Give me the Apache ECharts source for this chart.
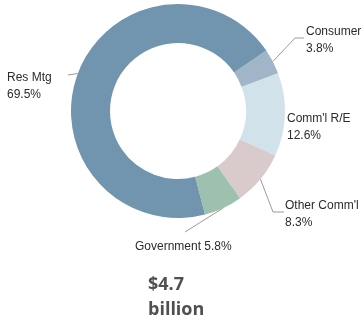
<!DOCTYPE html>
<html>
<head>
<meta charset="utf-8">
<script src="https://cdn.jsdelivr.net/npm/echarts@6/dist/echarts.min.js"></script>
<style>
  html, body { margin: 0; padding: 0; background: #fff; }
  #chart { width: 364px; height: 324px; }
</style>
</head>
<body>
<div id="chart"></div>
<script>
// Loan portfolio mix (share of $4.7 billion)
const categories = ['Consumer', "Comm'l R/E", "Other Comm'l", 'Government', 'Res Mtg'];
const shares = [3.8, 12.6, 8.3, 5.8, 69.5];
const sliceColors = ['#a0b6c8', '#d2e2eb', '#d9cbcb', '#9ec0ae', '#7195af'];
const totalLabel = ['$4.7', 'billion'];

// Label text placement (top-left of each text block) and the elbow of its leader line
const labelPlacement = [
  { x: 306, y: 23, line: [[-11, 15], [-2, 15]] },
  { x: 287, y: 110, line: null },
  { x: 285, y: 197, line: [[-12, 15], [-1, 15]] },
  { x: 135, y: 238, line: [[50, -6]] },
  { x: 7, y: 69, line: [[61, 6]] }
];
const twoLine = [true, true, true, false, true];

const font = '"Liberation Sans", Arial, sans-serif';

const chart = echarts.init(document.getElementById('chart'), null, { renderer: 'canvas' });

chart.setOption({
  animation: false,
  graphic: [{
    type: 'text',
    left: 148,
    top: 272,
    style: {
      text: totalLabel.join('\n'),
      font: 'bold 18px "Open Sans", sans-serif',
      lineHeight: 25,
      fill: '#505050',
      align: 'center'
    }
  }],
  series: [{
    type: 'pie',
    center: [178, 111],
    radius: [68, 107],
    startAngle: 34.4,
    clockwise: true,
    avoidLabelOverlap: false,
    itemStyle: { borderWidth: 0 },
    label: {
      show: true,
      position: 'outside',
      color: '#2b2b2b',
      fontFamily: font,
      fontSize: 12,
      lineHeight: 17,
      formatter: p => twoLine[p.dataIndex] ? p.name + '\n' + p.value.toFixed(1) + '%' : p.name + ' ' + p.value.toFixed(1) + '%'
    },
    labelLine: { show: true, lineStyle: { color: '#9a9a9a', width: 1 } },
    labelLayout: function (params) {
      const pl = labelPlacement[params.dataIndex];
      const out = { x: pl.x, y: pl.y, align: 'left', verticalAlign: 'top' };
      if (pl.line && params.labelLinePoints) {
        const start = params.labelLinePoints[0];
        out.labelLinePoints = [start].concat(pl.line.map(d => [pl.x + d[0], pl.y + d[1]]));
      }
      return out;
    },
    emphasis: { disabled: true },
    data: categories.map((c, i) => ({
      name: c,
      value: shares[i],
      itemStyle: { color: sliceColors[i] },
      labelLine: { show: labelPlacement[i].line !== null }
    }))
  }]
});
</script>
</body>
</html>
